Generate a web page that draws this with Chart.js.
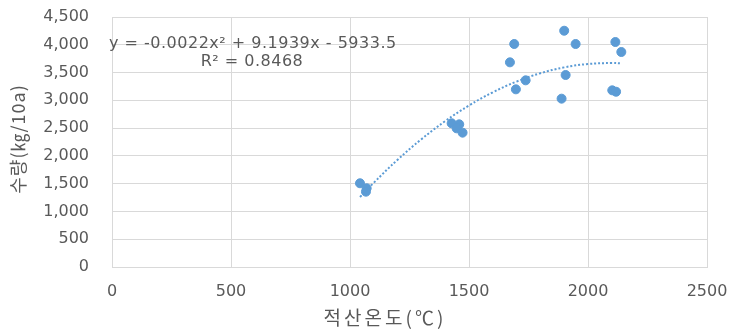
<!DOCTYPE html>
<html>
<head>
<meta charset="utf-8">
<script src="https://cdn.jsdelivr.net/npm/chart.js@4"></script>
<style>
    body { margin: 0; background: #fff; }
    #wrap { width: 730px; height: 332px; }
</style>
</head>
<body>
<div id="wrap"><canvas id="chart" width="730" height="332"></canvas></div>
<script>
// measured points (적산온도, 수량)
const tempSum = [1042, 1070, 1067, 1427, 1459, 1448, 1473, 1672, 1690, 1697, 1738, 1900, 1948, 1906, 1889, 2115, 2140, 2102, 2118];
const yieldVals = [1507, 1417, 1356, 2587, 2568, 2496, 2418, 3684, 4014, 3198, 3360, 4253, 4014, 3456, 3030, 4050, 3870, 3180, 3155];

// trendline
const trendX = [1042, 1100, 1200, 1300, 1400, 1500, 1600, 1700, 1800, 1900, 2000, 2100, 2140];
const trendY = [1260, 1517, 1931, 2300, 2626, 2907, 3145, 3338, 3488, 3593, 3654, 3672, 3666];

const equationText = "y = -0.0022x\u00b2 + 9.1939x - 5933.5";
const r2Text = "R\u00b2 = 0.8468";
const xTitle = "적산온도(℃)";
const yTitle = "수량(㎏/10a)";

const numFont = "'DejaVu Sans', sans-serif";
const krFont = "'Noto Sans CJK KR', 'DejaVu Sans', sans-serif";
const textColor = "#595959";
const blue = "#5B9BD5";

// trendline label + axis titles (Excel puts them off-centre, so draw them here)
const chartLabels = {
    id: "chartLabels",
    afterDatasetsDraw(chart) {
        const ctx = chart.ctx;
        ctx.save();
        ctx.fillStyle = textColor;
        ctx.font = "16px " + numFont;
        ctx.letterSpacing = "0.5px";
        ctx.textBaseline = "middle";
        ctx.textAlign = "left";
        ctx.fillText(equationText, 109, 44);
        ctx.textAlign = "center";
        ctx.fillText(r2Text, 252, 62);

        ctx.font = "19px " + krFont;
        ctx.letterSpacing = "3px";
        ctx.fillText(xTitle, 385, 318);

        ctx.font = "18px " + krFont;
        ctx.letterSpacing = "1px";
        ctx.translate(18, 139);
        ctx.rotate(-Math.PI / 2);
        ctx.fillText(yTitle, 0, 0);
        ctx.restore();
    },
};

new Chart(document.getElementById("chart"), {
    type: "scatter",
    data: {
        datasets: [
            {
                label: "trend",
                type: "line",
                data: trendX.map((x, i) => ({ x: x, y: trendY[i] })),
                borderColor: blue,
                borderWidth: 2,
                borderDash: [2, 2],
                pointRadius: 0,
                tension: 0.4,
                fill: false,
            },
            {
                label: "수량",
                data: tempSum.map((x, i) => ({ x: x, y: yieldVals[i] })),
                backgroundColor: blue,
                borderColor: blue,
                pointRadius: 4.5,
                pointHoverRadius: 4.5,
            },
        ],
    },
    options: {
        responsive: false,
        animation: false,
        layout: { padding: { left: 0, right: 23, top: 17, bottom: 0 } },
        plugins: {
            legend: { display: false },
            tooltip: { enabled: false },
        },
        scales: {
            x: {
                type: "linear",
                min: 0,
                max: 2500,
                ticks: {
                    stepSize: 500,
                    color: textColor,
                    font: { family: numFont, size: 16 },
                    padding: 15,
                    callback: (v) => String(v),
                },
                grid: { color: "#D9D9D9", drawTicks: false },
                border: { color: "#D9D9D9" },
                afterFit(scale) {
                    scale.height = 65;
                    // keep the tick padding from eating the plot area
                    scale.paddingLeft = 10;
                    scale.paddingRight = 10;
                },
            },
            y: {
                min: 0,
                max: 4500,
                ticks: {
                    stepSize: 500,
                    color: textColor,
                    font: { family: numFont, size: 16 },
                    padding: 23,
                    callback: (v) => v.toLocaleString("en-US"),
                },
                grid: { color: "#D9D9D9", drawTicks: false },
                border: { color: "#D9D9D9" },
                afterFit(scale) {
                    scale.width = 112;
                    scale.paddingTop = 5;
                    scale.paddingBottom = 5;
                },
            },
        },
    },
    plugins: [chartLabels],
});
</script>
</body>
</html>
